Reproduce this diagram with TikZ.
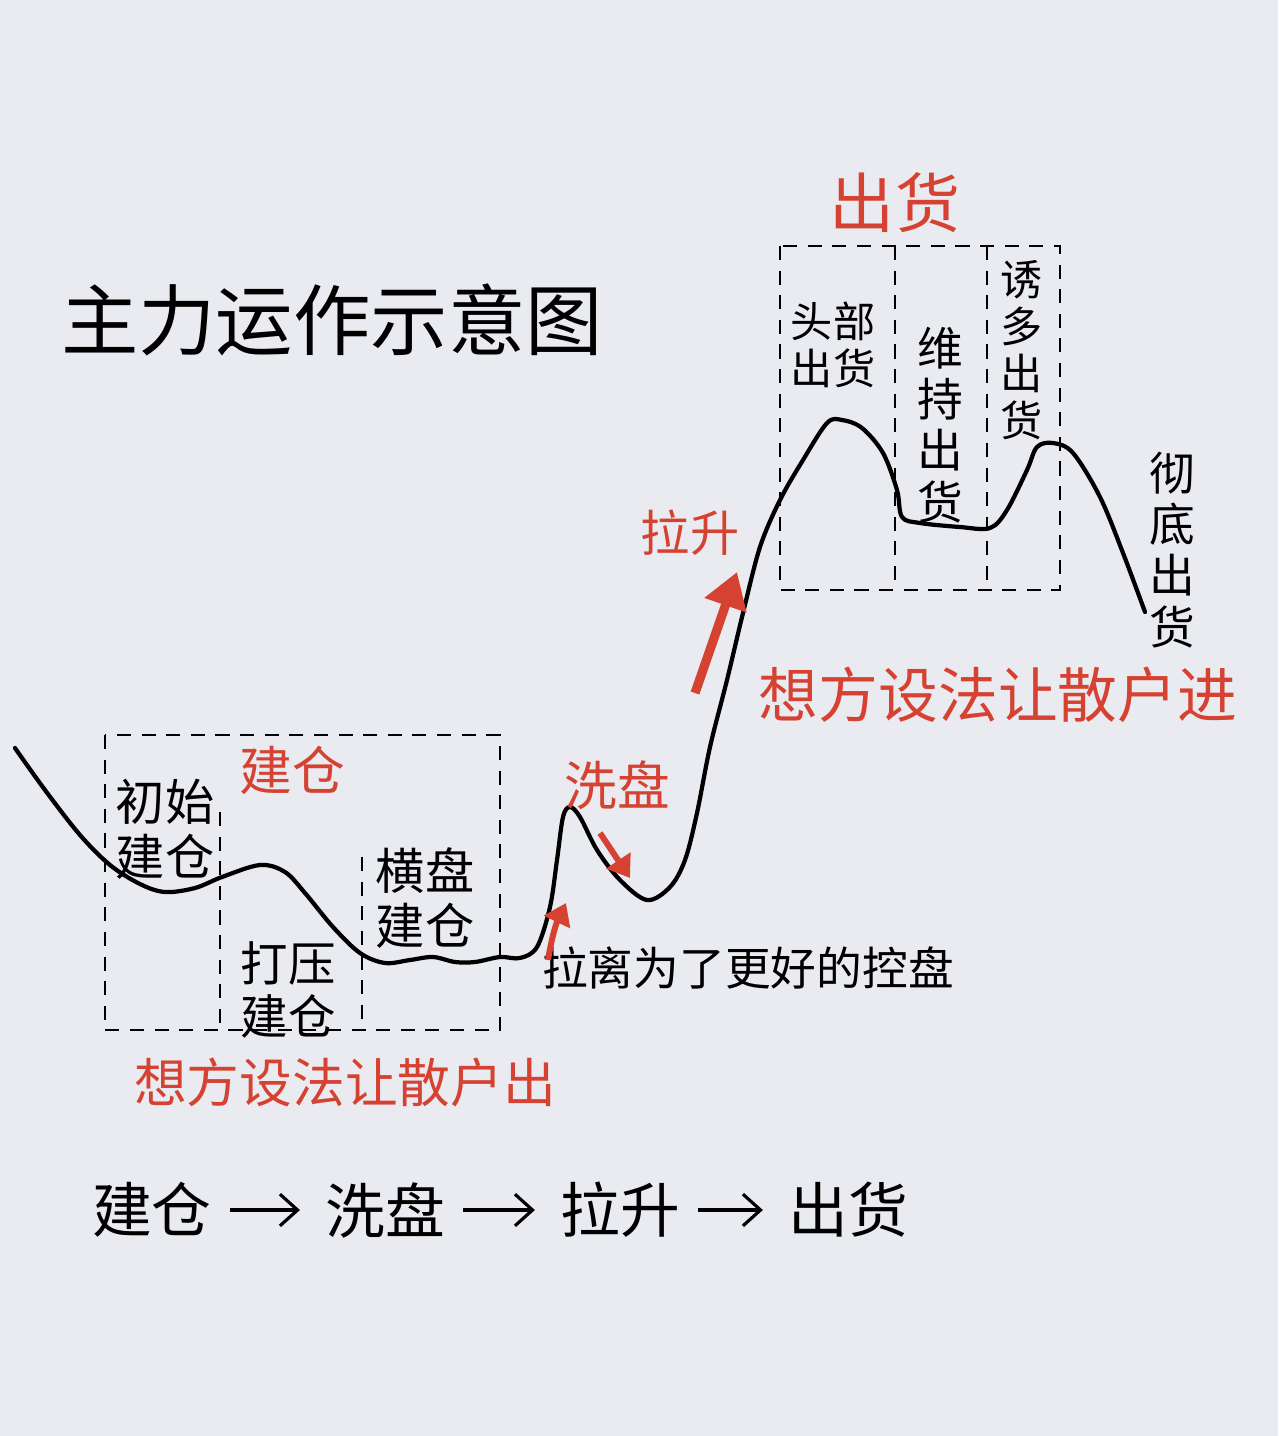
\documentclass[tikz,border=0pt]{standalone}
\usepackage{fontspec}
\setmainfont{Noto Sans CJK SC}
\usetikzlibrary{arrows.meta}
\definecolor{penred}{RGB}{214,66,50}
\definecolor{paper}{RGB}{233,235,240}
\newcommand{\hand}[1]{\fontsize{#1pt}{1.12\dimexpr#1pt\relax}\selectfont}
\begin{document}
\begin{tikzpicture}[x=0.01cm,y=-0.01cm,
  note/.style={inner sep=0pt,align=center},
  rednote/.style={note,text=penred},
  dashbox/.style={dash pattern=on 4pt off 3pt,line width=0.7pt},
  bigarrow/.style={penred,line width=2.6pt,-{Triangle[length=10pt,width=12pt]}},
  smallarrow/.style={penred,line width=1.7pt,-{Triangle[length=6pt,width=8pt]}},
  flow/.style={line width=0.9pt,shorten <=5pt,shorten >=7pt,-{Straight Barb[length=5pt,width=9pt]}}]
\fill[paper] (0,0) rectangle (1278,1436);
\useasboundingbox (0,0) rectangle (1278,1436);

\node[note,font=\hand{22}] (title) at (332,320) {主力运作示意图};

% boxes
\draw[dashbox] (105,735) rectangle (500,1030);
\draw[dashbox] (220,812) -- (220,1030);
\draw[dashbox] (362,857) -- (362,1030);
\draw[dashbox] (780,246) rectangle (1060,590);
\draw[dashbox] (895,246) -- (895,590);
\draw[dashbox] (987,246) -- (987,590);

% price line
\draw[line width=1.2pt,line join=round,line cap=round] plot[smooth,tension=0.55] coordinates {
  (15,748) (45,790) (80,835) (110,865) (140,884) (165,892) (195,888) (222,877)
  (260,865) (285,872) (305,893) (333,927) (360,953) (385,963) (410,960) (433,957)
  (455,962) (475,962) (500,957) (520,958) (537,947) (550,907) (557,860) (563,817)
  (570,807) (580,817) (597,850) (620,880) (647,900) (670,887) (685,860) (697,813)
  (710,747) (727,680) (743,613) (760,547) (780,500) (803,460) (827,423) (842,420)
  (862,428) (883,453) (897,490) (902,517) (920,523) (960,527) (990,528) (1007,510)
  (1027,470) (1037,447) (1053,443) (1073,453) (1100,497) (1123,553) (1145,612)};

% left part
\node[rednote,font=\hand{15}] (jc) at (292,770) {建仓};
\node[note,font=\hand{14}] (cs) at (165,829) {初始\\建仓};
\node[note,font=\hand{13.5}] (dy) at (288,990) {打压\\建仓};
\node[note,font=\hand{14}] (hp) at (425,898) {横盘\\建仓};
\node[rednote,font=\hand{15}] (out) at (345,1082) {想方设法让散户出};

% middle part
\node[rednote,font=\hand{15}] (xp) at (617,785) {洗盘};
\node[note,font=\hand{13}] (ll) at (748,968) {拉离为了更好的控盘};
\node[rednote,font=\hand{14}] (ls) at (690,533) {拉升};
\coordinate (a1) at (548,960); \coordinate (a1t) at (566,903);
\coordinate (a2) at (600,833); \coordinate (a2t) at (630,878);
\coordinate (a3) at (695,693); \coordinate (a3t) at (737,572);
\draw[smallarrow] (a1) to[bend left=8] (a1t);
\draw[smallarrow] (a2) -- (a2t);
\draw[bigarrow] (a3) -- (a3t);

% right part
\node[rednote,font=\hand{18.5}] (ch) at (895,203) {出货};
\node[note,font=\hand{12}] (tb) at (833,345) {头部\\出货};
\node[note,font=\hand{13}] (wc) at (940,425) {维\\持\\出\\货};
\node[note,font=\hand{12}] (yd) at (1022,350) {诱\\多\\出\\货};
\node[note,font=\hand{13}] (cd) at (1172,550) {彻\\底\\出\\货};
\node[rednote,font=\hand{17}] (in) at (998,695) {想方设法让散户进};

% flow
\node[note,font=\hand{17}] (f1) at (152,1210) {建仓};
\node[note,font=\hand{17}] (f2) at (385,1210) {洗盘};
\node[note,font=\hand{17}] (f3) at (620,1210) {拉升};
\node[note,font=\hand{17}] (f4) at (848,1210) {出货};
\draw[flow] (f1) -- (f2);
\draw[flow] (f2) -- (f3);
\draw[flow] (f3) -- (f4);
\end{tikzpicture}
\end{document}
